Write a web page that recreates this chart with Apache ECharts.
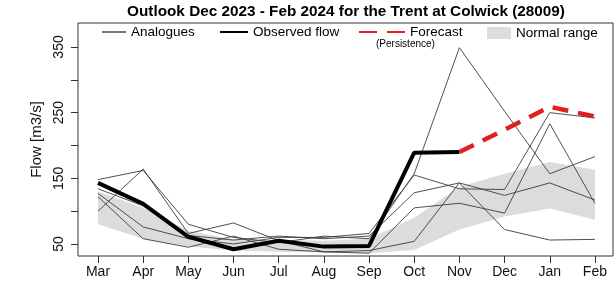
<!DOCTYPE html>
<html>
<head>
<meta charset="utf-8">
<script src="https://cdn.jsdelivr.net/npm/echarts@6/dist/echarts.min.js"></script>
<style>
  html, body { margin: 0; padding: 0; background: #fff; }
  #chart { width: 614px; height: 302px; }
</style>
</head>
<body>
<div id="chart"></div>
<script>
// months along the x axis (index 0 = Mar)
const months = ["Mar", "Apr", "May", "Jun", "Jul", "Aug", "Sep", "Oct", "Nov", "Dec", "Jan", "Feb"];

const observed = [143, 111, 61, 42, 55, 46, 47, 189, 190, null, null, null];
const forecast = [null, null, null, null, null, null, null, null, 190, 224, 259, 244];

// analogue years (thin lines)
const analogueA = [148, 162, 80, 60, 52, 62, 58, 157, 349, 252, 157, 183];
const analogueB = [100, 164, 66, 82, 55, 38, 40, 54, 143, 72, 56, 57];
const analogueC = [134, 108, 63, 56, 62, 58, 62, 128, 143, 124, 143, 117];
const analogueD = [127, 76, 58, 50, 60, 60, 66, 155, 134, 133, 250, 242];
const analogueE = [122, 58, 45, 62, 42, 38, 36, 105, 112, 97, 233, 112];

// normal range band
const normalLow = [80, 58, 46, 40, 38, 37, 36, 41, 72, 92, 104, 87];
const normalHigh = [130, 105, 70, 57, 56, 55, 58, 90, 137, 157, 175, 163];

const yTicks = [50, 100, 150, 200, 250, 300, 350];
const yLabels = [50, 150, 250, 350];

const font = "'Liberation Sans', Arial, sans-serif";
const toPairs = arr => arr.map((v, i) => [i, v]);
const legendText = { fontSize: 13.5, color: "#000", fontFamily: font };

const analogues = [analogueA, analogueB, analogueC, analogueD, analogueE].map(a => ({
  name: "Analogues",
  type: "line",
  data: toPairs(a),
  symbol: "none",
  z: 3,
  lineStyle: { color: "#3c3c3c", width: 0.9 },
  itemStyle: { color: "#3c3c3c" },
}));

const chart = echarts.init(document.getElementById("chart"));
const option = {
  animation: false,
  textStyle: { fontFamily: font },
  title: {
    text: "Outlook Dec 2023 - Feb 2024 for the Trent at Colwick (28009)",
    left: 346,
    top: 4,
    padding: 0,
    textAlign: "center",
    textStyle: { fontSize: 15.3, fontWeight: "bold", color: "#000", fontFamily: font },
  },
  legend: [
    {
      data: ["Analogues"], left: 101, top: 25, padding: 0,
      itemWidth: 24, itemHeight: 14, itemStyle: { opacity: 0 },
      lineStyle: { color: "#777" },
      textStyle: legendText,
    },
    {
      data: ["Observed flow"], left: 219, top: 25, padding: 0,
      itemWidth: 28, itemHeight: 14, itemStyle: { opacity: 0 },
      textStyle: legendText,
    },
    {
      data: ["Forecast"], left: 358, top: 25, padding: 0,
      itemWidth: 46, itemHeight: 14, itemStyle: { opacity: 0 },
      lineStyle: { type: [18, 10] },
      textStyle: legendText,
    },
    {
      data: [{ name: "Normal range", icon: "rect", itemStyle: { color: "#dcdcdc" } }],
      left: 487, top: 26, padding: 0,
      itemWidth: 24, itemHeight: 12,
      textStyle: legendText,
    },
  ],
  graphic: [
    {
      type: "text", left: 376, top: 39,
      style: { text: "(Persistence)", fontSize: 10, fill: "#000", fontFamily: font },
    },
  ],
  grid: {
    left: 78, right: 1, top: 23, bottom: 46,
    show: true, borderColor: "#333", borderWidth: 1,
  },
  xAxis: {
    type: "value",
    min: -0.443,
    max: 11.4,
    splitLine: { show: false },
    axisLine: { show: false, onZero: false },
    axisTick: { show: true, length: 7, lineStyle: { color: "#333" }, customValues: months.map((m, i) => i) },
    axisLabel: {
      fontSize: 14, color: "#111", margin: 9,
      customValues: months.map((m, i) => i),
      formatter: v => months[v],
    },
  },
  yAxis: {
    type: "value",
    min: 31.7,
    max: 386.5,
    name: "Flow [m3/s]",
    nameLocation: "middle",
    nameRotate: 90,
    nameGap: 34,
    nameTextStyle: { fontSize: 15, color: "#111", fontFamily: font },
    splitLine: { show: false },
    axisLine: { show: false, onZero: false },
    axisTick: { show: true, length: 7, lineStyle: { color: "#333" }, customValues: yTicks },
    axisLabel: { fontSize: 14, color: "#111", rotate: 90, margin: 12, customValues: yLabels },
  },
  series: [
    {
      name: "Normal range",
      type: "custom",
      z: 1,
      silent: true,
      itemStyle: { color: "#dcdcdc" },
      data: toPairs(normalHigh),
      renderItem: (params, api) => {
        if (params.dataIndex !== 0) return;
        const pts = [];
        normalHigh.forEach((v, i) => pts.push(api.coord([i, v])));
        for (let i = normalLow.length - 1; i >= 0; i--) pts.push(api.coord([i, normalLow[i]]));
        return {
          type: "polygon",
          shape: { points: pts },
          style: { fill: "#dcdcdc" },
        };
      },
    },
    ...analogues,
    {
      name: "Observed flow",
      type: "line",
      data: toPairs(observed),
      symbol: "none",
      z: 4,
      lineStyle: { color: "#000", width: 4 },
      itemStyle: { color: "#000" },
    },
    {
      name: "Forecast",
      type: "line",
      data: toPairs(forecast),
      symbol: "none",
      z: 5,
      lineStyle: { color: "#e0201e", width: 4.5, type: [16, 10] },
      itemStyle: { color: "#e0201e" },
    },
  ],
};
chart.setOption(option);
</script>
</body>
</html>
